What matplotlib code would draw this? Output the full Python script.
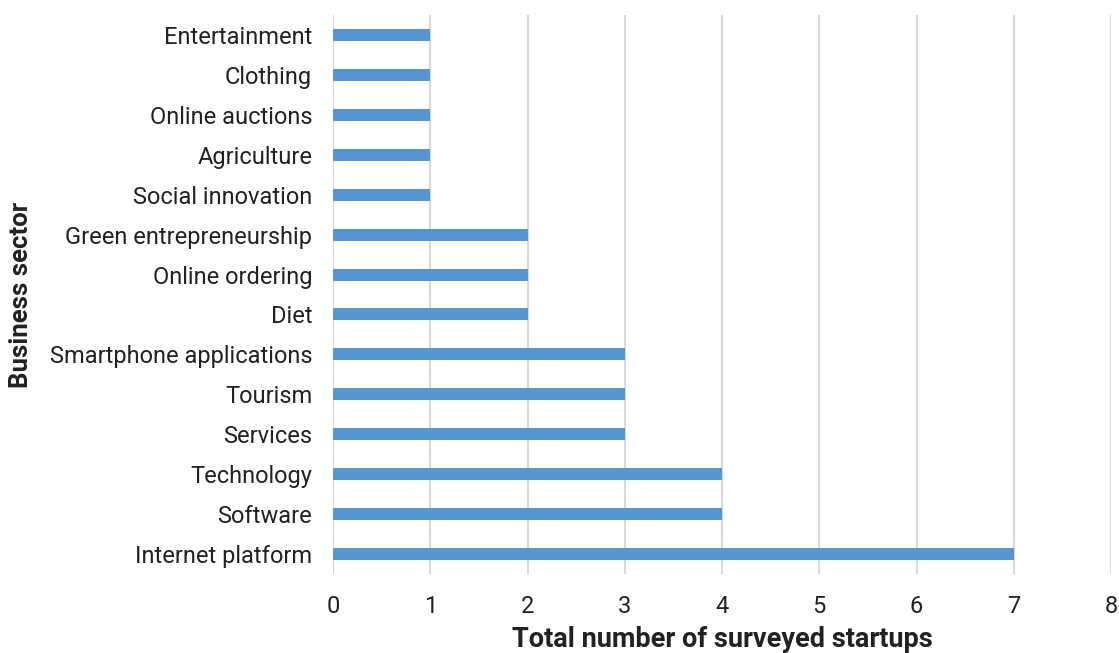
import matplotlib
matplotlib.use("Agg")
import matplotlib.pyplot as plt

sectors = [
    "Entertainment", "Clothing", "Online auctions", "Agriculture",
    "Social innovation", "Green entrepreneurship", "Online ordering", "Diet",
    "Smartphone applications", "Tourism", "Services", "Technology",
    "Software", "Internet platform",
]
startups = [1, 1, 1, 1, 1, 2, 2, 2, 3, 3, 3, 4, 4, 7]
x_ticks = [0, 1, 2, 3, 4, 5, 6, 7, 8]

plt.rcParams["font.family"] = ["Roboto", "DejaVu Sans"]

fig = plt.figure(figsize=(11.19, 6.53), dpi=100)
ax = fig.add_axes([333 / 1119, 1 - 574 / 653, (1111 - 333) / 1119, (574 - 15) / 653])

pos = list(range(len(sectors)))
ax.barh(pos, startups, height=0.3, color="#5596D3", zorder=3)
ax.set_ylim(len(sectors) - 0.5, -0.5)
ax.set_yticks(pos)
ax.set_yticklabels(sectors, fontsize=17, color="#222222")
ax.set_xlim(0, 8)
ax.set_xticks(x_ticks)
ax.set_xticklabels([str(t) for t in x_ticks], fontsize=17, color="#222222")
ax.tick_params(axis="both", length=0)
ax.tick_params(axis="y", pad=15)
ax.tick_params(axis="x", pad=15)
ax.grid(axis="x", color="#D9D9D9", linewidth=1.5, zorder=0)
for s in ax.spines.values():
    s.set_visible(False)

ax.set_xlabel("Total number of surveyed startups", fontsize=19.5, fontweight="bold",
              color="#222222", labelpad=6)
ax.set_ylabel("Business sector", fontsize=18.5, fontweight="bold", color="#222222")
ax.yaxis.set_label_coords(-300 / 778, 0.5)

fig.savefig("out.png", dpi=100)
